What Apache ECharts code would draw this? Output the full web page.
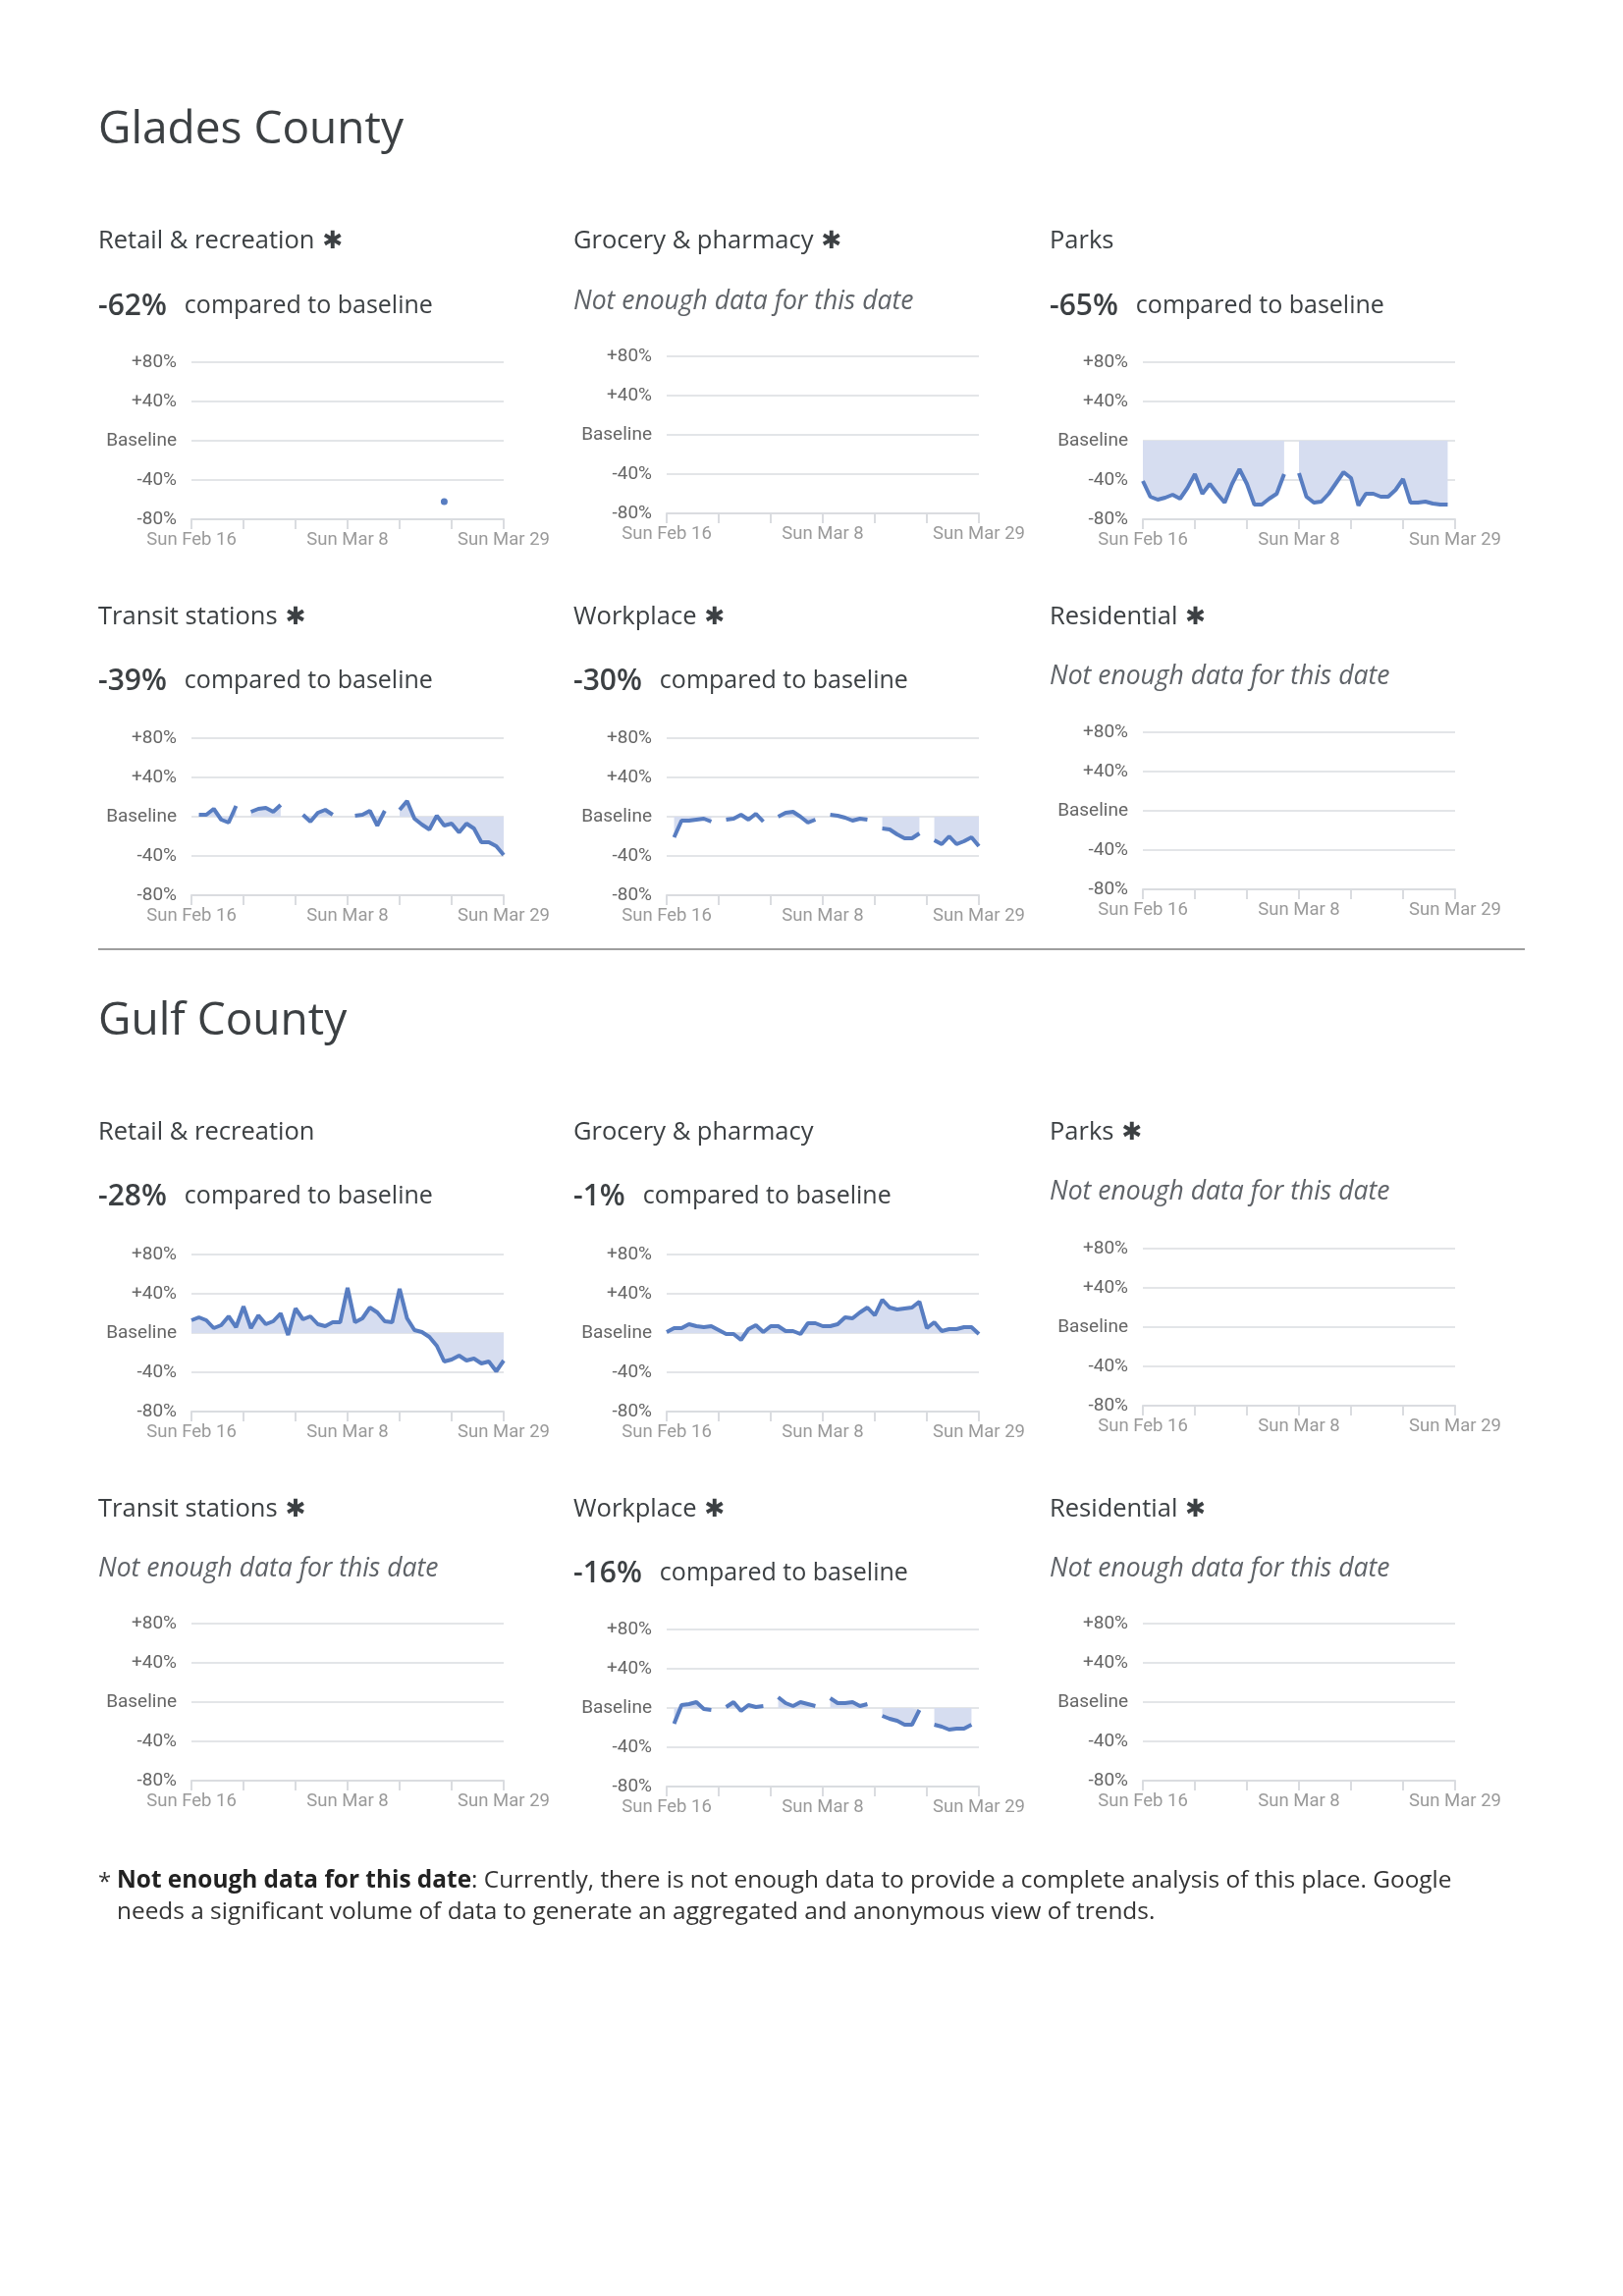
<!DOCTYPE html>
<html>
<head>
<meta charset="utf-8">
<script src="https://cdn.jsdelivr.net/npm/echarts@6/dist/echarts.min.js"></script>
<style>
html,body{margin:0;padding:0;background:#fff;}
#chart{width:1653px;height:2339px;}
</style>
</head>
<body>
<div id="chart"></div>
<script>
// ---------- DATA ----------
const dates = [
 'Sun Feb 16','Mon Feb 17','Tue Feb 18','Wed Feb 19','Thu Feb 20','Fri Feb 21','Sat Feb 22',
 'Sun Feb 23','Mon Feb 24','Tue Feb 25','Wed Feb 26','Thu Feb 27','Fri Feb 28','Sat Feb 29',
 'Sun Mar 1','Mon Mar 2','Tue Mar 3','Wed Mar 4','Thu Mar 5','Fri Mar 6','Sat Mar 7',
 'Sun Mar 8','Mon Mar 9','Tue Mar 10','Wed Mar 11','Thu Mar 12','Fri Mar 13','Sat Mar 14',
 'Sun Mar 15','Mon Mar 16','Tue Mar 17','Wed Mar 18','Thu Mar 19','Fri Mar 20','Sat Mar 21',
 'Sun Mar 22','Mon Mar 23','Tue Mar 24','Wed Mar 25','Thu Mar 26','Fri Mar 27','Sat Mar 28',
 'Sun Mar 29'];

const yTicks = [-80, -40, 0, 40, 80];
const yTickLabels = ['-80%', '-40%', 'Baseline', '+40%', '+80%'];

const categories = ['Retail & recreation', 'Grocery & pharmacy', 'Parks', 'Transit stations', 'Workplace', 'Residential'];
const counties = ['Glades County', 'Gulf County'];

const gladesRetail = [null,null,null,null,null,null,null,null,null,null,null,null,null,null,null,null,null,null,null,null,null,null,null,null,null,null,null,null,null,null,null,null,null,null,-62,null,null,null,null,null,null,null,null];
const gladesParks = [-41,-57,-60,-58,-55,-59,-48,-34,-54,-44,-54,-63,-44,-29,-44,-65,-65,-59,-54,-34,null,-33,-57,-63,-62,-54,-43,-32,-38,-66,-54,-54,-57,-57,-50,-39,-63,-63,-62,-64,-65,-65,null];
const gladesTransit = [null,2,2,8,-3,-6,11,null,5,8,9,5,12,null,null,2,-5,4,7,2,null,null,1,2,6,-9,6,null,7,16,-2,-8,-13,1,-9,-7,-16,-7,-12,-26,-26,-30,-39];
const gladesWorkplace = [null,-21,-4,-4,-3,-2,-5,null,-3,-2,2,-3,3,-5,null,0,4,5,0,-6,-3,null,2,1,-1,-4,-2,-3,null,-12,-13,-18,-22,-22,-17,null,-24,-28,-20,-28,-25,-21,-30];

const gulfRetail = [13,16,13,5,8,17,6,27,5,18,9,12,20,-2,25,14,17,9,7,11,11,46,11,15,26,21,12,11,45,15,3,1,-4,-13,-29,-27,-23,-28,-26,-31,-29,-39,-28];
const gulfGrocery = [1,5,5,9,7,6,7,3,-1,-1,-7,4,8,1,7,7,2,2,-1,10,10,7,7,9,16,15,21,26,18,34,26,24,25,26,32,5,11,2,4,4,6,6,-1];
const gulfWorkplace = [null,-16,3,4,6,-1,-2,null,1,6,-3,3,1,2,null,11,5,2,6,4,2,null,10,5,5,6,2,4,null,-8,-11,-13,-17,-17,-2,null,-17,-19,-22,-21,-21,-17,null];

const gladesStar = [true, true, false, true, true, true];
const gulfStar = [false, false, true, true, true, true];
const gladesHeadline = ['-62%', null, '-65%', '-39%', '-30%', null];
const gulfHeadline = ['-28%', '-1%', null, null, '-16%', null];
const gladesSeries = [gladesRetail, null, gladesParks, gladesTransit, gladesWorkplace, null];
const gulfSeries = [gulfRetail, gulfGrocery, null, null, gulfWorkplace, null];

const noDataText = 'Not enough data for this date';
const comparedText = 'compared to baseline';
const footLine1 = ': Currently, there is not enough data to provide a complete analysis of this place. Google';
const footLine2 = 'needs a significant volume of data to generate an aggregated and anonymous view of trends.';

// ---------- LAYOUT ----------
const FONT = '"Open Sans", Roboto, sans-serif';
const DARK = '#3c4043';
const LINE = '#587dc1';
const AREA = '#d6ddf0';
const GRIDC = '#dadce0';
const colX = [100, 584, 1069];
const blocks = [
  {name: counties[0], titleY: 133, star: gladesStar, head: gladesHeadline, series: gladesSeries,
   rows: [{catY: 246, headY: 312, gridTop: 369}, {catY: 629, headY: 694, gridTop: 752}]},
  {name: counties[1], titleY: 1041, star: gulfStar, head: gulfHeadline, series: gulfSeries,
   rows: [{catY: 1154, headY: 1219, gridTop: 1278}, {catY: 1538, headY: 1603, gridTop: 1660}]}
];

const grid = [], xAxis = [], yAxis = [], series = [], graphic = [];

blocks.forEach(function (b) {
  graphic.push({type: 'text', x: 100, y: b.titleY, silent: true,
    style: {text: b.name, font: '400 46px ' + FONT, fill: DARK, verticalAlign: 'middle', align: 'left'}});
  for (let k = 0; k < 6; k++) {
    const r = b.rows[Math.floor(k / 3)];
    const c = k % 3;
    const x0 = colX[c];
    const hasData = b.head[k] !== null;
    // category label
    graphic.push({type: 'text', x: x0, y: r.catY, silent: true,
      style: {text: '{t|' + categories[k] + '}' + (b.star[k] ? '{a|✱}' : ''),
        verticalAlign: 'middle', align: 'left',
        rich: {t: {font: '400 25.5px ' + FONT, fill: DARK, padding: [0, 8, 0, 0]},
               a: {font: 'bold 25px "DejaVu Sans", sans-serif', fill: DARK}}}});
    // headline
    if (hasData) {
      graphic.push({type: 'text', x: x0, y: r.headY, silent: true,
        style: {text: '{v|' + b.head[k] + '}{n|' + comparedText + '}', verticalAlign: 'middle', align: 'left',
          rich: {v: {font: '600 30px ' + FONT, fill: DARK, padding: [0, 18, 0, 0]},
                 n: {font: '400 25px ' + FONT, fill: DARK}}}});
    } else {
      graphic.push({type: 'text', x: x0, y: r.headY - 5, silent: true,
        style: {text: noDataText, font: 'italic 400 26.5px ' + FONT, fill: '#5f6368', verticalAlign: 'middle', align: 'left'}});
    }
    const gi = grid.length;
    grid.push({left: x0 + 95, top: hasData ? r.gridTop : r.gridTop - 6, width: 318, height: 160});
    xAxis.push({gridIndex: gi, type: 'category', data: dates, boundaryGap: false,
      axisLine: {show: true, onZero: false, lineStyle: {color: GRIDC, width: 2}},
      axisTick: {show: true, interval: 6, length: 10, lineStyle: {color: GRIDC, width: 2}},
      axisLabel: {interval: 20, margin: 12, fontSize: 18.5, color: '#9a9a9a', fontFamily: 'Roboto'},
      splitLine: {show: false}});
    yAxis.push({gridIndex: gi, type: 'value', min: -80, max: 80, interval: 40,
      axisLine: {show: false}, axisTick: {show: false},
      splitLine: {show: true, lineStyle: {color: GRIDC, width: 1.5}},
      axisLabel: {margin: 15, fontSize: 19, color: '#666666', fontFamily: 'Roboto',
        formatter: function (v) { return yTickLabels[yTicks.indexOf(v)]; }}});
    const arr = b.series[k] || [];
    series.push({type: 'line', xAxisIndex: gi, yAxisIndex: gi, data: arr,
      connectNulls: false, silent: true, smooth: false,
      showSymbol: true, showAllSymbol: true, symbol: 'circle',
      symbolSize: function (v, p) {
        const i = p.dataIndex;
        return (arr[i] != null && arr[i - 1] == null && arr[i + 1] == null) ? 7 : 0;
      },
      itemStyle: {color: LINE},
      lineStyle: {color: LINE, width: 4},
      areaStyle: {color: AREA, opacity: 1}});
  }
});

// divider
graphic.push({type: 'line', silent: true, shape: {x1: 100, y1: 967, x2: 1553, y2: 967},
  style: {stroke: '#9e9e9e', lineWidth: 2}});
// footnote
graphic.push({type: 'text', x: 100, y: 1918, silent: true,
  style: {text: '*', font: '400 24px ' + FONT, fill: '#333', verticalAlign: 'middle', align: 'left'}});
graphic.push({type: 'text', x: 119, y: 1916, silent: true,
  style: {text: '{b|' + noDataText + '}{n|' + footLine1 + '}', verticalAlign: 'middle', align: 'left',
    rich: {b: {font: 'bold 24.4px ' + FONT, fill: '#222'}, n: {font: '400 24.4px ' + FONT, fill: '#333'}}}});
graphic.push({type: 'text', x: 119, y: 1948, silent: true,
  style: {text: footLine2, font: '400 24.4px ' + FONT, fill: '#333', verticalAlign: 'middle', align: 'left'}});

const chart = echarts.init(document.getElementById('chart'), null, {renderer: 'canvas'});
chart.setOption({animation: false, backgroundColor: '#ffffff', grid: grid, xAxis: xAxis, yAxis: yAxis, series: series, graphic: graphic});
</script>
</body>
</html>
